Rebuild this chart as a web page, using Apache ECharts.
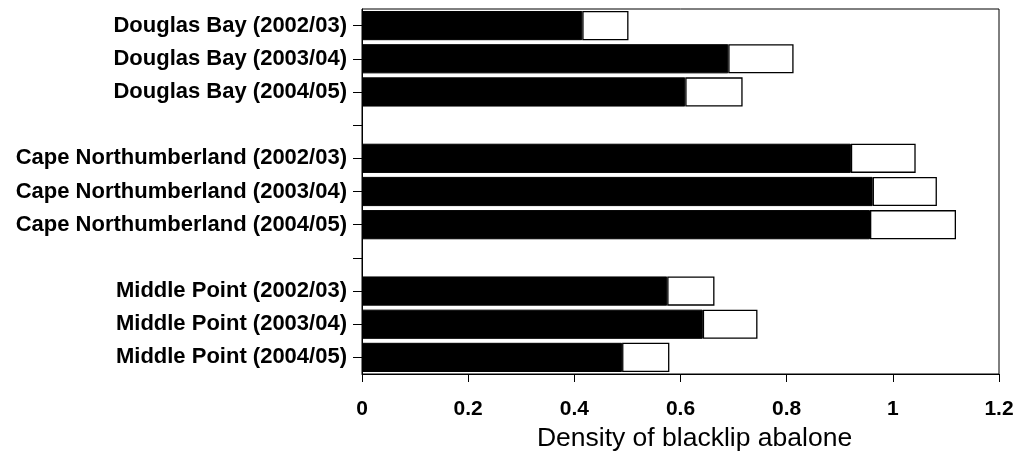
<!DOCTYPE html>
<html>
<head>
<meta charset="utf-8">
<script src="https://cdn.jsdelivr.net/npm/echarts@6/dist/echarts.min.js"></script>
<style>
html,body{margin:0;padding:0;background:#fff;}
#chart{width:1019px;height:453px;}
</style>
</head>
<body>
<div id="chart"></div>
<script>
// Categories (blank entries are spacer rows between sites)
var categories = [
  'Douglas Bay (2002/03)', 'Douglas Bay (2003/04)', 'Douglas Bay (2004/05)',
  '',
  'Cape Northumberland (2002/03)', 'Cape Northumberland (2003/04)', 'Cape Northumberland (2004/05)',
  ' ',
  'Middle Point (2002/03)', 'Middle Point (2003/04)', 'Middle Point (2004/05)'
];
// Black segment values
var blackValues = [0.415, 0.690, 0.609, '-', 0.921, 0.962, 0.957, '-', 0.575, 0.642, 0.490];
// Bar totals (end of white segment)
var totalValues = [0.502, 0.813, 0.717, '-', 1.043, 1.083, 1.119, '-', 0.664, 0.745, 0.579];
var xTicks = [0, 0.2, 0.4, 0.6, 0.8, 1, 1.2];

var whiteValues = totalValues.map(function (t, i) {
  return t === '-' ? '-' : +(t - blackValues[i]).toFixed(3);
});

var chart = echarts.init(document.getElementById('chart'), null, {renderer: 'canvas'});
chart.setOption({
  animation: false,
  backgroundColor: '#fff',
  grid: {
    left: 362, right: 20, top: 9, bottom: 79,
    containLabel: false, outerBoundsMode: 'none',
    show: true, borderColor: '#000', borderWidth: 1, backgroundColor: 'transparent'
  },
  xAxis: {
    type: 'value',
    min: 0, max: 1.2, interval: 0.2,
    name: 'Density of blacklip abalone',
    nameLocation: 'middle',
    nameGap: 51,
    nameTextStyle: {fontFamily: 'Liberation Sans', fontSize: 26.5, color: '#000', padding: [0, 0, 0, 28]},
    axisLine: {show: true, lineStyle: {color: '#000', width: 1}},
    axisTick: {show: true, length: 8, inside: false, lineStyle: {color: '#000'}},
    axisLabel: {
      fontFamily: 'Liberation Sans', fontWeight: 'bold', fontSize: 21, color: '#000', margin: 25,
      formatter: function (v) { return xTicks.indexOf(+v.toFixed(1)) >= 0 ? String(+v.toFixed(1)) : ''; }
    },
    splitLine: {show: false}
  },
  yAxis: {
    type: 'category',
    data: categories,
    inverse: true,
    axisLine: {show: true, lineStyle: {color: '#000', width: 1}},
    axisTick: {show: true, alignWithLabel: true, length: 9, lineStyle: {color: '#000'}},
    axisLabel: {fontFamily: 'Liberation Sans', fontWeight: 'bold', fontSize: 22, color: '#000', margin: 15, interval: 0}
  },
  series: [
    {
      type: 'bar', stack: 'a', data: blackValues, barCategoryGap: '12%',
      itemStyle: {color: '#000', borderColor: '#000', borderWidth: 1}
    },
    {
      type: 'bar', stack: 'a', data: whiteValues, barCategoryGap: '12%',
      itemStyle: {color: '#fff', borderColor: '#000', borderWidth: 1.3}
    }
  ]
});
</script>
</body>
</html>
